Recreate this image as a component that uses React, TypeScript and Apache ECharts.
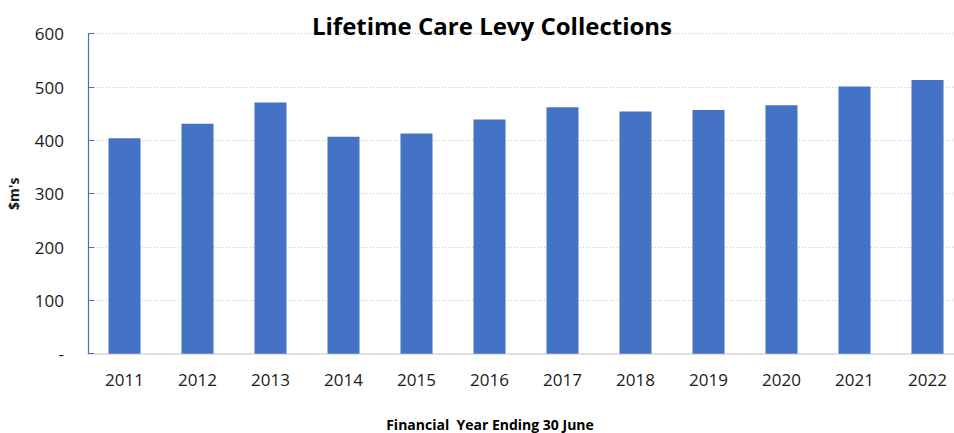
import React, { useEffect, useRef } from "react";
import * as echarts from "echarts";

const categories = ["2011", "2012", "2013", "2014", "2015", "2016", "2017", "2018", "2019", "2020", "2021", "2022"];
const levyValues = [404, 431, 471, 407, 413, 439, 462, 454, 457, 466, 501, 513];
const titleText = "Lifetime Care Levy Collections";
const yAxisTitle = "$m's";
const xAxisTitle = "Financial  Year Ending 30 June";

export default function App() {
  const ref = useRef<HTMLDivElement>(null);
  useEffect(() => {
    if (!ref.current) return;
    const chart = echarts.init(ref.current, null, { renderer: "svg" });
    const font = "'Open Sans', 'Noto Sans', sans-serif";
    chart.setOption({
      animation: false,
      textStyle: { fontFamily: font },
      grid: { left: 88, top: 33.7, width: 876, height: 320, containLabel: false, outerBoundsMode: "none" },
      xAxis: {
        type: "category",
        data: categories,
        axisLine: { lineStyle: { color: "#d9d9d9", width: 1.5 } },
        axisTick: { show: false },
        axisLabel: { color: "#1a1a1a", fontSize: 17, margin: 17, fontFamily: font },
      },
      yAxis: {
        type: "value",
        min: 0,
        max: 600,
        interval: 100,
        name: yAxisTitle,
        nameLocation: "middle",
        nameRotate: 90,
        nameGap: 68,
        nameTextStyle: { color: "#1a1a1a", fontSize: 14, fontWeight: "bold", fontFamily: font },
        axisLine: { show: true, lineStyle: { color: "#4472C4", width: 1.2 } },
        axisTick: { show: true, inside: true, length: 6, lineStyle: { color: "#4472C4" } },
        axisLabel: {
          color: "#1a1a1a",
          fontSize: 17,
          margin: 24,
          fontFamily: font,
          formatter: (v: number) => (v === 0 ? "-" : String(v)),
        },
        splitLine: { show: true, lineStyle: { color: "#c8c8c8", type: [1, 2], width: 1 } },
      },
      series: [
        {
          type: "bar",
          data: levyValues,
          barWidth: 32,
          itemStyle: { color: "#4472C4" },
          z: 3,
        },
      ],
      graphic: [
        {
          type: "text",
          x: 492,
          y: 25,
          z: 10,
          style: {
            text: titleText,
            fontSize: 24,
            fontWeight: "bold",
            fontFamily: font,
            fill: "#000000",
            textAlign: "center",
            textVerticalAlign: "middle",
          },
        },
        {
          type: "text",
          x: 490,
          y: 424,
          style: {
            text: xAxisTitle,
            fontSize: 14,
            fontWeight: "bold",
            fontFamily: font,
            fill: "#000000",
            textAlign: "center",
            textVerticalAlign: "middle",
          },
        },
      ],
    });
    return () => chart.dispose();
  }, []);
  return <div ref={ref} style={{ position: "absolute", left: 0, top: 0, width: 954, height: 433 }} />;
}
